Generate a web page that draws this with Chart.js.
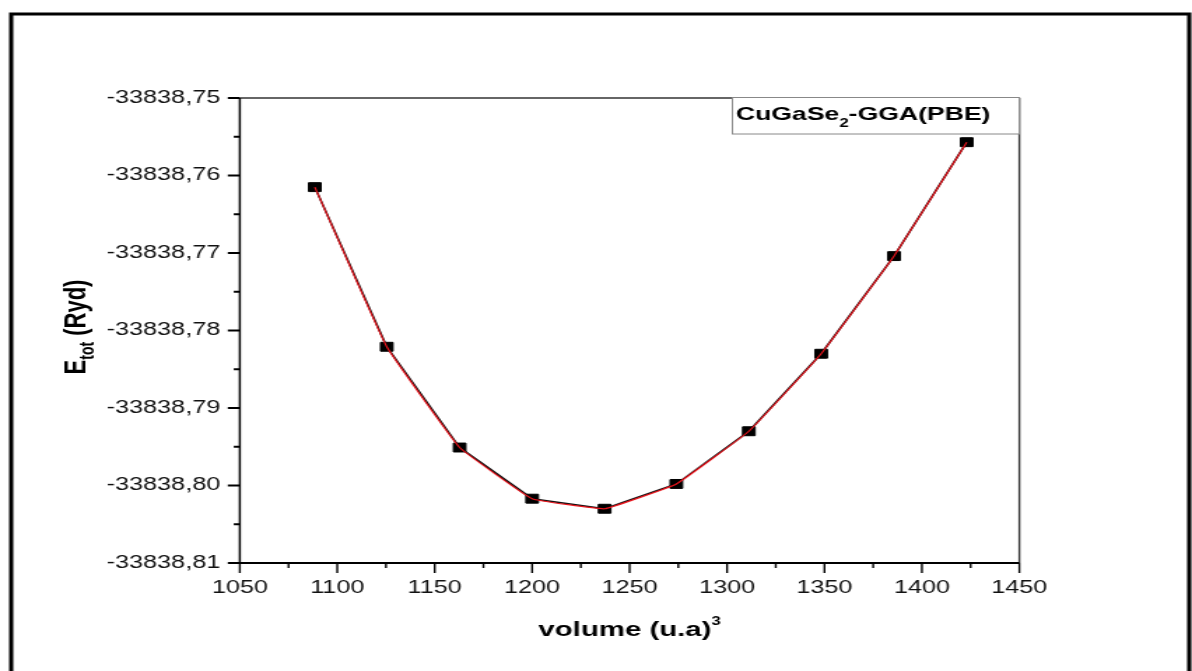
<!DOCTYPE html>
<html>
<head>
<meta charset="utf-8">
<title>CuGaSe2 - E(V)</title>
<script src="https://cdn.jsdelivr.net/npm/chart.js@4.4.1/dist/chart.umd.min.js"></script>
<style>
    html, body { margin: 0; padding: 0; background: #fff; overflow: hidden; }
    /* the figure is drawn narrow and stretched sideways to the page width */
    #wrap { width: 852px; height: 671px; transform: scaleX(1.39906); transform-origin: 0 0; }
</style>
</head>
<body>
<div id="wrap"><canvas id="evChart"></canvas></div>
<script>
// Total energy vs. cell volume
const volumes = [1088.5, 1125.4, 1162.8, 1200.0, 1237.2, 1274.0, 1311.2, 1348.3, 1385.7, 1423.0];
const energies = [-33838.7615, -33838.7821, -33838.7951, -33838.8017, -33838.8030,
                  -33838.7998, -33838.7930, -33838.7830, -33838.7704, -33838.7557];

const xTickValues = [1050, 1075, 1100, 1125, 1150, 1175, 1200, 1225, 1250, 1275, 1300,
                     1325, 1350, 1375, 1400, 1425, 1450];
const yTickValues = [-33838.81, -33838.805, -33838.80, -33838.795, -33838.79, -33838.785, -33838.78,
                     -33838.775, -33838.77, -33838.765, -33838.76, -33838.755, -33838.75];

const FONT = 'Arial, "Liberation Sans", sans-serif';

const points = volumes.map((v, i) => ({ x: v, y: energies[i] }));

// Writes text with a smaller part raised or lowered, returns the end x
function drawRich(ctx, parts, x, y) {
    parts.forEach(p => {
        ctx.font = `bold ${p.size}px ${FONT}`;
        ctx.fillText(p.text, x, y + (p.shift || 0));
        x += ctx.measureText(p.text).width;
    });
    return x;
}

function richWidth(ctx, parts) {
    return parts.reduce((w, p) => {
        ctx.font = `bold ${p.size}px ${FONT}`;
        return w + ctx.measureText(p.text).width;
    }, 0);
}

const framePlugin = {
    id: 'frame',
    beforeDraw(chart) {
        const ctx = chart.ctx;
        ctx.save();
        // outer figure border (open at the bottom)
        ctx.strokeStyle = '#000';
        ctx.lineWidth = 3;
        ctx.beginPath();
        ctx.moveTo(8, 671);
        ctx.lineTo(8, 14);
        ctx.lineTo(850, 14);
        ctx.lineTo(850, 671);
        ctx.stroke();
        ctx.restore();
    },
    afterDatasetsDraw(chart) {
        const ctx = chart.ctx;
        const { left, right, top, bottom } = chart.chartArea;
        const xs = chart.scales.x;
        const ys = chart.scales.y;
        ctx.save();

        // plot box
        ctx.strokeStyle = '#333';
        ctx.lineWidth = 1.5;
        ctx.beginPath();
        ctx.moveTo(left, top);
        ctx.lineTo(right, top);
        ctx.stroke();
        ctx.lineWidth = 1.4;
        ctx.beginPath();
        ctx.moveTo(right, top);
        ctx.lineTo(right, bottom);
        ctx.stroke();

        ctx.strokeStyle = '#000';
        ctx.lineWidth = 1.5;
        ctx.beginPath();
        ctx.moveTo(left, top);
        ctx.lineTo(left, bottom + 1);
        ctx.stroke();
        ctx.lineWidth = 2;
        ctx.beginPath();
        ctx.moveTo(left - 1, bottom);
        ctx.lineTo(right, bottom);
        ctx.stroke();

        // tick marks, long where a label is printed
        ctx.lineWidth = 2;
        ys.ticks.forEach(t => {
            const py = ys.getPixelForValue(t.value);
            const len = t.label ? 8.6 : 4.3;
            ctx.beginPath();
            ctx.moveTo(left - len, py);
            ctx.lineTo(left, py);
            ctx.stroke();
        });
        ctx.lineWidth = 1.4;
        xs.ticks.forEach(t => {
            const px = xs.getPixelForValue(t.value);
            const len = t.label ? 10 : 5;
            ctx.beginPath();
            ctx.moveTo(px, bottom);
            ctx.lineTo(px, bottom + len);
            ctx.stroke();
        });

        ctx.fillStyle = '#000';
        ctx.textBaseline = 'alphabetic';
        ctx.textAlign = 'left';

        // x axis title
        const xTitle = [
            { text: 'volume (u.a)', size: 21 },
            { text: '3', size: 12, shift: -11 }
        ];
        const xw = richWidth(ctx, xTitle);
        drawRich(ctx, xTitle, (left + right) / 2 - xw / 2, 636);

        // y axis title, rotated
        const yTitle = [
            { text: 'E', size: 22 },
            { text: 'tot', size: 14, shift: 6 },
            { text: ' (Ryd)', size: 22 }
        ];
        const yw = richWidth(ctx, yTitle);
        ctx.save();
        ctx.translate(61, 327);
        ctx.rotate(-Math.PI / 2);
        drawRich(ctx, yTitle, -yw / 2, 0);
        ctx.restore();

        // legend label box
        ctx.fillStyle = '#fff';
        ctx.fillRect(523, 97, right - 523, 37);
        ctx.strokeStyle = '#888';
        ctx.lineWidth = 1;
        ctx.strokeRect(523.5, 97.5, right - 523.5, 36.5);
        ctx.fillStyle = '#000';
        drawRich(ctx, [
            { text: 'CuGaSe', size: 19 },
            { text: '2', size: 12, shift: 7 },
            { text: '-GGA(PBE)', size: 19 }
        ], 526, 120);

        ctx.restore();
    }
};

const ctx = document.getElementById('evChart');
new Chart(ctx, {
    type: 'line',
    data: {
        datasets: [
            {
                // fitted curve drawn over the points
                data: points,
                borderColor: '#e8141c',
                borderWidth: 1.2,
                tension: 0.08,
                pointRadius: 0,
                fill: false,
                order: 0
            },
            {
                data: points,
                borderColor: '#111',
                borderWidth: 1.6,
                tension: 0,
                pointStyle: 'rect',
                pointRadius: 6.3,
                pointBackgroundColor: '#000',
                pointBorderColor: '#000',
                pointBorderWidth: 1,
                fill: false,
                order: 1
            }
        ]
    },
    options: {
        responsive: true,
        maintainAspectRatio: false,
        animation: false,
        layout: {
            padding: { top: 98, right: 123.4, left: 0, bottom: 0 }
        },
        plugins: {
            legend: { display: false },
            tooltip: { enabled: false }
        },
        scales: {
            x: {
                type: 'linear',
                min: 1050,
                max: 1450,
                afterBuildTicks: scale => {
                    scale.ticks = xTickValues.map(v => ({ value: v }));
                },
                afterFit: scale => { scale.height = 108; },
                grid: { display: false, drawTicks: false },
                border: { display: false },
                ticks: {
                    autoSkip: false,
                    maxRotation: 0,
                    padding: 14,
                    color: '#111',
                    font: { family: FONT, size: 18 },
                    callback: (value, index) => index % 2 === 0 ? String(value) : ''
                }
            },
            y: {
                type: 'linear',
                min: -33838.81,
                max: -33838.75,
                afterBuildTicks: scale => {
                    scale.ticks = yTickValues.map(v => ({ value: v }));
                },
                afterFit: scale => { scale.width = 171.4; },
                grid: { display: false, drawTicks: false },
                border: { display: false },
                ticks: {
                    autoSkip: false,
                    padding: 14,
                    color: '#111',
                    font: { family: FONT, size: 18 },
                    callback: (value, index) => index % 2 === 0 ? value.toFixed(2).replace('.', ',') : ''
                }
            }
        }
    },
    plugins: [framePlugin]
});
</script>
</body>
</html>
